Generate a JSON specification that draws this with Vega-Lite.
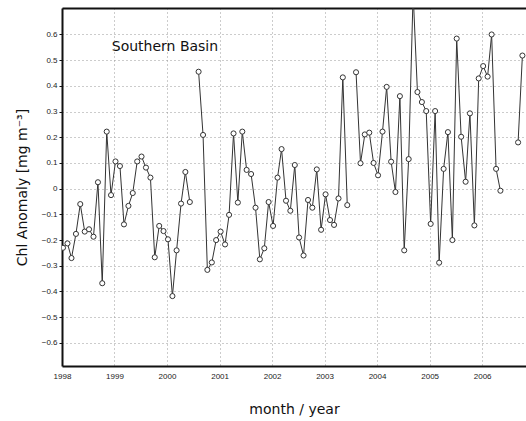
{
  "$schema": "https://vega.github.io/schema/vega-lite/v6.json",
  "width": 464,
  "height": 358,
  "autosize": {"type": "none"},
  "padding": {"left": 62, "top": 8, "right": 0, "bottom": 55},
  "background": "white",
  "config": {
    "view": {"stroke": null},
    "axis": {
      "labelFont": "Liberation Sans",
      "labelFontSize": 8,
      "labelColor": "#222",
      "titleFont": "Comic Sans MS, DejaVu Sans",
      "titleFontWeight": "normal",
      "titleFontSize": 14,
      "titleColor": "#111",
      "gridColor": "#999",
      "gridDash": [1, 3],
      "gridWidth": 1,
      "domainColor": "#111",
      "domainWidth": 2,
      "tickColor": "#111"
    }
  },
  "data": {
    "values": [
      {"date": "1998-01-08", "v": -0.23},
      {"date": "1998-02-08", "v": -0.213},
      {"date": "1998-03-08", "v": -0.27},
      {"date": "1998-04-08", "v": -0.176},
      {"date": "1998-05-08", "v": -0.06},
      {"date": "1998-06-08", "v": -0.167},
      {"date": "1998-07-08", "v": -0.158},
      {"date": "1998-08-08", "v": -0.187},
      {"date": "1998-09-08", "v": 0.025},
      {"date": "1998-10-08", "v": -0.368},
      {"date": "1998-11-08", "v": 0.222},
      {"date": "1998-12-08", "v": -0.025},
      {"date": "1999-01-08", "v": 0.106},
      {"date": "1999-02-08", "v": 0.088},
      {"date": "1999-03-08", "v": -0.139},
      {"date": "1999-04-08", "v": -0.067},
      {"date": "1999-05-08", "v": -0.017},
      {"date": "1999-06-08", "v": 0.106},
      {"date": "1999-07-08", "v": 0.125},
      {"date": "1999-08-08", "v": 0.082},
      {"date": "1999-09-08", "v": 0.043},
      {"date": "1999-10-08", "v": -0.267},
      {"date": "1999-11-08", "v": -0.145},
      {"date": "1999-12-08", "v": -0.165},
      {"date": "2000-01-08", "v": -0.197},
      {"date": "2000-02-08", "v": -0.418},
      {"date": "2000-03-08", "v": -0.24},
      {"date": "2000-04-08", "v": -0.058},
      {"date": "2000-05-08", "v": 0.065},
      {"date": "2000-06-08", "v": -0.052},
      {"date": "2000-07-08", "v": null},
      {"date": "2000-08-08", "v": 0.455},
      {"date": "2000-09-08", "v": 0.209},
      {"date": "2000-10-08", "v": -0.316},
      {"date": "2000-11-08", "v": -0.287},
      {"date": "2000-12-08", "v": -0.2},
      {"date": "2001-01-08", "v": -0.167},
      {"date": "2001-02-08", "v": -0.217},
      {"date": "2001-03-08", "v": -0.102},
      {"date": "2001-04-08", "v": 0.215},
      {"date": "2001-05-08", "v": -0.054},
      {"date": "2001-06-08", "v": 0.222},
      {"date": "2001-07-08", "v": 0.073},
      {"date": "2001-08-08", "v": 0.057},
      {"date": "2001-09-08", "v": -0.074},
      {"date": "2001-10-08", "v": -0.275},
      {"date": "2001-11-08", "v": -0.232},
      {"date": "2001-12-08", "v": -0.052},
      {"date": "2002-01-08", "v": -0.145},
      {"date": "2002-02-08", "v": 0.043},
      {"date": "2002-03-08", "v": 0.154},
      {"date": "2002-04-08", "v": -0.047},
      {"date": "2002-05-08", "v": -0.086},
      {"date": "2002-06-08", "v": 0.092},
      {"date": "2002-07-08", "v": -0.19},
      {"date": "2002-08-08", "v": -0.26},
      {"date": "2002-09-08", "v": -0.044},
      {"date": "2002-10-08", "v": -0.074},
      {"date": "2002-11-08", "v": 0.075},
      {"date": "2002-12-08", "v": -0.16},
      {"date": "2003-01-08", "v": -0.022},
      {"date": "2003-02-08", "v": -0.122},
      {"date": "2003-03-08", "v": -0.141},
      {"date": "2003-04-08", "v": -0.038},
      {"date": "2003-05-08", "v": 0.433},
      {"date": "2003-06-08", "v": -0.064},
      {"date": "2003-07-08", "v": null},
      {"date": "2003-08-08", "v": 0.453},
      {"date": "2003-09-08", "v": 0.099},
      {"date": "2003-10-08", "v": 0.211},
      {"date": "2003-11-08", "v": 0.218},
      {"date": "2003-12-08", "v": 0.1},
      {"date": "2004-01-08", "v": 0.052},
      {"date": "2004-02-08", "v": 0.222},
      {"date": "2004-03-08", "v": 0.396},
      {"date": "2004-04-08", "v": 0.105},
      {"date": "2004-05-08", "v": -0.013},
      {"date": "2004-06-08", "v": 0.36},
      {"date": "2004-07-08", "v": -0.24},
      {"date": "2004-08-08", "v": 0.115},
      {"date": "2004-09-08", "v": 0.76},
      {"date": "2004-10-08", "v": 0.376},
      {"date": "2004-11-08", "v": 0.337},
      {"date": "2004-12-08", "v": 0.302},
      {"date": "2005-01-08", "v": -0.137},
      {"date": "2005-02-08", "v": 0.302},
      {"date": "2005-03-08", "v": -0.288},
      {"date": "2005-04-08", "v": 0.077},
      {"date": "2005-05-08", "v": 0.22},
      {"date": "2005-06-08", "v": -0.2},
      {"date": "2005-07-08", "v": 0.584},
      {"date": "2005-08-08", "v": 0.202},
      {"date": "2005-09-08", "v": 0.027},
      {"date": "2005-10-08", "v": 0.293},
      {"date": "2005-11-08", "v": -0.143},
      {"date": "2005-12-08", "v": 0.429},
      {"date": "2006-01-08", "v": 0.477},
      {"date": "2006-02-08", "v": 0.436},
      {"date": "2006-03-08", "v": 0.6},
      {"date": "2006-04-08", "v": 0.077},
      {"date": "2006-05-08", "v": -0.008},
      {"date": "2006-06-08", "v": null},
      {"date": "2006-07-08", "v": null},
      {"date": "2006-08-08", "v": null},
      {"date": "2006-09-08", "v": 0.18},
      {"date": "2006-10-08", "v": 0.518}
    ]
  },
  "layer": [
    {
      "mark": {
        "type": "line",
        "clip": true,
        "color": "#333",
        "strokeWidth": 1,
        "invalid": "break-paths-filter-domains",
        "point": {"filled": true, "fill": "white", "stroke": "#333", "strokeWidth": 1, "size": 26}
      },
      "encoding": {
        "x": {
          "field": "date",
          "type": "temporal",
          "scale": {"domain": [{"year": 1998, "month": 1, "date": 1}, {"year": 2006, "month": 11, "date": 2}], "nice": false},
          "axis": {
            "title": "month / year",
            "format": "%Y",
            "tickCount": {"interval": "year", "step": 1},
            "ticks": false,
            "labelPadding": 6,
            "labelFlush": false,
            "labelOverlap": false,
            "titlePadding": 22
          }
        },
        "y": {
          "field": "v",
          "type": "quantitative",
          "scale": {"domain": [-0.69, 0.703], "nice": false, "zero": false},
          "axis": {
            "title": "Chl Anomaly [mg m⁻³]",
            "values": [-0.6, -0.5, -0.4, -0.3, -0.2, -0.1, 0, 0.1, 0.2, 0.3, 0.4, 0.5, 0.6],
            "format": ".1~f",
            "tickSize": 3,
            "labelPadding": 2,
            "labelOverlap": false,
            "labelFlush": false,
            "titlePadding": 12
          }
        }
      }
    },
    {
      "data": {"values": [{"date": "1998-12-13", "v": 0.551, "label": "Southern Basin"}]},
      "mark": {"type": "text", "align": "left", "baseline": "middle", "font": "Comic Sans MS, DejaVu Sans", "fontSize": 14, "color": "#111"},
      "encoding": {
        "x": {
          "field": "date",
          "type": "temporal",
          "axis": {"orient": "top", "title": null, "labels": false, "ticks": false, "grid": false, "domain": true, "domainWidth": 2, "domainColor": "#111"}
        },
        "y": {"field": "v", "type": "quantitative", "axis": null},
        "text": {"field": "label"}
      }
    }
  ],
  "resolve": {"axis": {"x": "independent", "y": "independent"}}
}
